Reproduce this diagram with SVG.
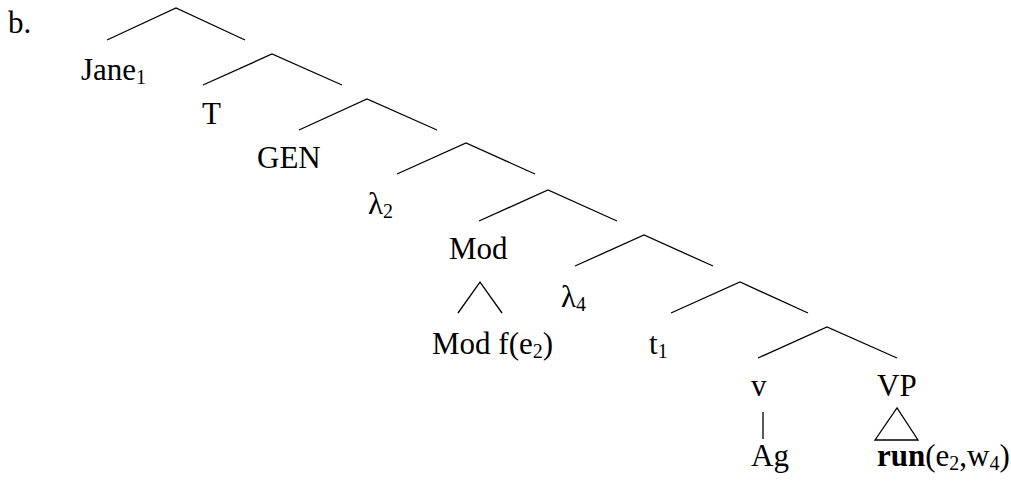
<svg xmlns="http://www.w3.org/2000/svg" width="1011" height="485" viewBox="0 0 1011 485">
<style>
text{font-family:"Liberation Serif","Times New Roman",serif;font-size:31px;fill:#000}
.sub{font-size:20px}
.b{font-weight:bold}
#connectors line,#connectors polyline,#connectors polygon{stroke:#000;stroke-width:1.3;fill:none}
</style>
<rect width="1011" height="485" fill="#fff"/>
<g id="label-b"><text x="8" y="33">b.</text></g>
<g id="connectors">
<polyline points="107,40 176,8 245,40"/>
<polyline points="203,85 272,54 342,85"/>
<polyline points="299,130 367,99 437,130"/>
<polyline points="397,174 466,143 535,174"/>
<polyline points="479,221 548,190 617,221"/>
<polyline points="575,266 644,235 713,266"/>
<polyline points="671,313 740,282 808,313"/>
<polyline points="758,358 827,327 897,358"/>
<polyline points="458,313 480,282 502,313"/>
<line x1="763" y1="412" x2="763" y2="439"/>
<polygon points="875,440 897,408 918,440"/>
</g>
<g id="n-jane"><text x="81" y="80">Jane<tspan class="sub" dy="4">1</tspan></text></g>
<g id="n-T"><text x="202" y="124">T</text></g>
<g id="n-GEN"><text x="257" y="168">GEN</text></g>
<g id="n-lambda2"><text x="368" y="214">λ<tspan class="sub" dy="4">2</tspan></text></g>
<g id="n-Mod"><text x="449" y="259">Mod</text></g>
<g id="n-Modf"><text x="432" y="354">Mod f(e<tspan class="sub" dy="4">2</tspan><tspan dy="-4">)</tspan></text></g>
<g id="n-lambda4"><text x="561" y="307">λ<tspan class="sub" dy="4">4</tspan></text></g>
<g id="n-t1"><text x="649" y="354">t<tspan class="sub" dy="4">1</tspan></text></g>
<g id="n-v"><text x="751" y="396">v</text></g>
<g id="n-VP"><text x="877" y="396">VP</text></g>
<g id="n-Ag"><text x="751" y="466">Ag</text></g>
<g id="n-run"><text x="877" y="466"><tspan class="b">run</tspan>(e<tspan class="sub" dy="4">2</tspan><tspan dy="-4">,w</tspan><tspan class="sub" dy="4">4</tspan><tspan dy="-4">)</tspan></text></g>
</svg>
